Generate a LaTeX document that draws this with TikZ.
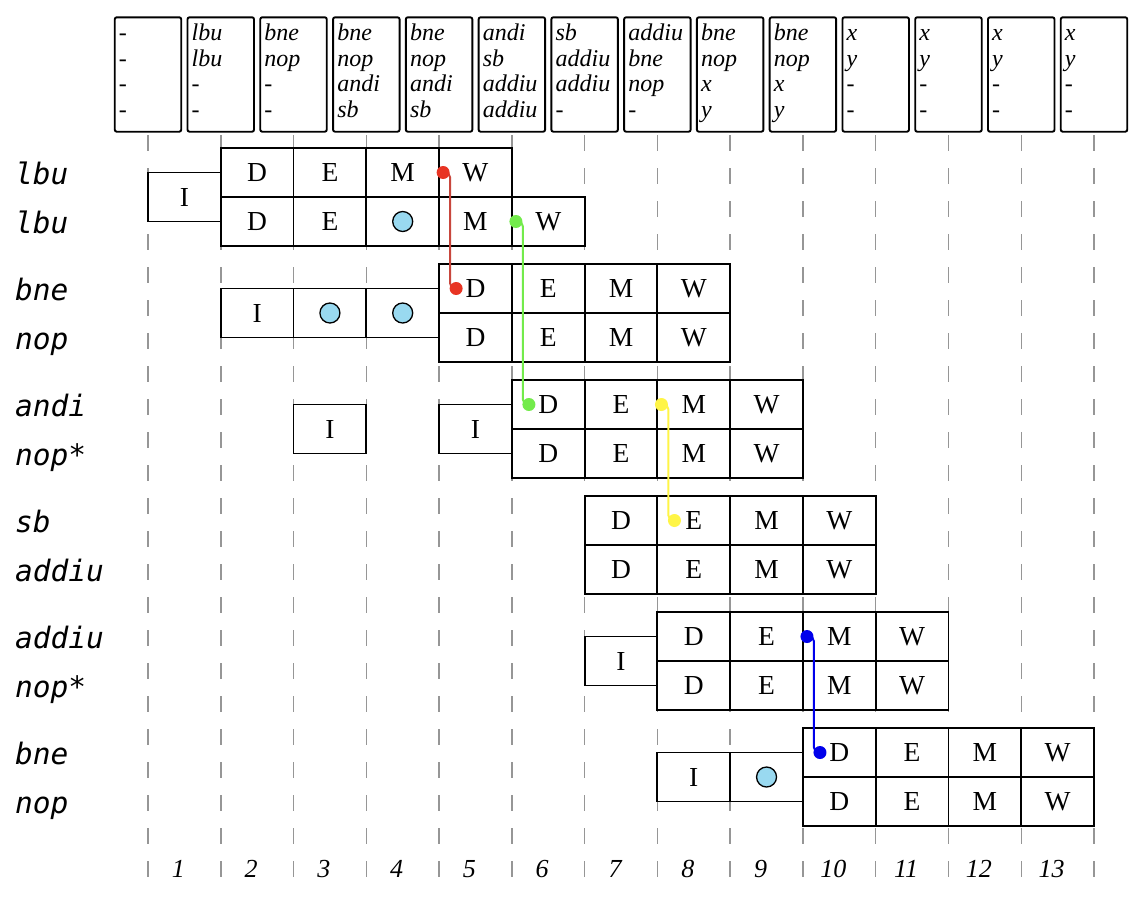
\documentclass[tikz,border=0pt]{standalone}
\usepackage{fontspec}
\setmainfont{Liberation Serif}
\newfontfamily\labfont{DejaVu Sans Mono}
\usetikzlibrary{calc}
\definecolor{stallc}{RGB}{153,217,240}
\definecolor{fwdred}{RGB}{232,52,35}
\definecolor{fwdredl}{RGB}{200,70,60}
\definecolor{fwdgreen}{RGB}{115,235,75}
\definecolor{fwdyellow}{RGB}{255,245,70}
\definecolor{fwdblue}{RGB}{0,0,235}
\definecolor{dashc}{RGB}{150,150,150}
\pgfdeclarelayer{fg}
\pgfsetlayers{main,fg}
\tikzset{
  cell/.style={draw, line width=1.9pt, minimum width=72.77pt, minimum height=49pt, inner sep=0pt, fill=white, font=\fontsize{27.5}{30}\selectfont},
  stall/.style={circle, draw, line width=1.3pt, fill=stallc, minimum size=20pt, inner sep=0pt},
  buf/.style={draw, line width=1.9pt, rounded corners=2pt, minimum width=66.5pt, minimum height=114.4pt, inner sep=0pt},
  buftext/.style={anchor=base west, inner sep=0pt, font=\fontsize{24}{25.6}\selectfont\itshape},
  lab/.style={anchor=base west, inner sep=0pt, font=\labfont\itshape\fontsize{29.5}{31}\selectfont},
  num/.style={anchor=base, inner sep=0pt, font=\fontsize{26}{28}\selectfont\itshape},
  fdot/.style={circle, fill=#1, minimum size=13pt, inner sep=0pt},
  fwd/.style={line width=2pt, rounded corners=5pt, draw=#1},
  vline/.style={draw=dashc, line width=1.5pt, dash pattern=on 16pt off 17pt}
}
\newcommand\cellat[4]{%
  \pgfmathsetmacro\cxx{148+72.77*(#2-0.5)}%
  \node[cell] (#1) at (\cxx,#3) {#4};}
\newcommand\stallat[3]{%
  \cellat{#1}{#2}{#3}{}%
  \node[stall] (#1s) at (#1) {};}
\newcommand\piperow[3]{%
  \foreach \s [count=\i from 0] in {D,E,M,W} {\cellat{#1\s}{#2+\i}{#3}{\s}}}
\begin{document}
\begin{tikzpicture}[x=1pt, y=-1pt]
\useasboundingbox (0,0) rectangle (1142,908);
% grid lines
\foreach \k in {0,...,13} {
  \pgfmathsetmacro\lx{148+72.77*\k}
  \draw[vline] (\lx,135) -- (\lx,882);
}
% top buffer boxes
\foreach \t [count=\k from 0] in {
  {-\\-\\-\\-},{lbu\\lbu\\-\\-},{bne\\nop\\-\\-},{bne\\nop\\andi\\sb},{bne\\nop\\andi\\sb},
  {andi\\sb\\addiu\\addiu},{sb\\addiu\\addiu\\-},{addiu\\bne\\nop\\-},{bne\\nop\\x\\y},{bne\\nop\\x\\y},
  {x\\y\\-\\-},{x\\y\\-\\-},{x\\y\\-\\-},{x\\y\\-\\-}} {
  \pgfmathsetmacro\bx{148+72.77*\k}
  \pgfmathsetmacro\tx{\bx-29.25}
  \node[buf] (buf\k) at (\bx,74.5) {};
  \node[buftext] (buft\k) at (\tx,40.7) {\parbox[t]{64pt}{\raggedright\fontsize{24}{25.6}\selectfont\itshape\t}};
}
% column numbers
\foreach \k in {1,...,13} {
  \pgfmathsetmacro\nx{148+72.77*(\k-0.5)-6}
  \node[num] (num\k) at (\nx,877) {\k};
}
% instruction labels
\foreach \txt/\yy [count=\j] in {lbu/172.5,lbu/221.5,bne/288.5,nop/337.5,andi/404.5,nop*/453.5,sb/520.5,addiu/569.5,addiu/636.5,nop*/685.5,bne/752.5,nop/801.5} {
  \node[lab] (lab\j) at (15,\yy+12) {\txt};
}
% pair 1
\cellat{p1I}{1}{197}{I}
\piperow{p1a}{2}{172.5}
\cellat{p1bD}{2}{221.5}{D}
\cellat{p1bE}{3}{221.5}{E}
\stallat{p1bS}{4}{221.5}
\cellat{p1bM}{5}{221.5}{M}
\cellat{p1bW}{6}{221.5}{W}
% pair 2
\cellat{p2I}{2}{313}{I}
\stallat{p2S1}{3}{313}
\stallat{p2S2}{4}{313}
\piperow{p2a}{5}{288.5}
\piperow{p2b}{5}{337.5}
% pair 3
\cellat{p3I1}{3}{429}{I}
\cellat{p3I2}{5}{429}{I}
\piperow{p3a}{6}{404.5}
\piperow{p3b}{6}{453.5}
% pair 4
\piperow{p4a}{7}{520.5}
\piperow{p4b}{7}{569.5}
% pair 5
\cellat{p5I}{7}{661}{I}
\piperow{p5a}{8}{636.5}
\piperow{p5b}{8}{685.5}
% pair 6
\cellat{p6I}{8}{777}{I}
\stallat{p6S}{9}{777}
\piperow{p6a}{10}{752.5}
\piperow{p6b}{10}{801.5}
% forwarding
\begin{pgfonlayer}{fg}
\node[fdot=fwdred] (r1) at ($(p1aW.west)+(5,0)$) {};
\node[fdot=fwdred] (r2) at ($(p2aD.west)+(18,0)$) {};
\node[fdot=fwdgreen] (g1) at ($(p1bW.west)+(5,0)$) {};
\node[fdot=fwdgreen] (g2) at ($(p3aD.west)+(18,0)$) {};
\node[fdot=fwdyellow] (y1) at ($(p3aM.west)+(5,0)$) {};
\node[fdot=fwdyellow] (y2) at ($(p4aE.west)+(18,0)$) {};
\node[fdot=fwdblue] (b1) at ($(p5aM.west)+(5,0)$) {};
\node[fdot=fwdblue] (b2) at ($(p6aD.west)+(18,0)$) {};
\end{pgfonlayer}
\draw[fwd=fwdredl] (r1.center) -- ++(7,0) |- (r2.center);
\draw[fwd=fwdgreen] (g1.center) -- ++(7,0) |- (g2.center);
\draw[fwd=fwdyellow] (y1.center) -- ++(7,0) |- (y2.center);
\draw[fwd=fwdblue] (b1.center) -- ++(7,0) |- (b2.center);
\end{tikzpicture}
\end{document}
